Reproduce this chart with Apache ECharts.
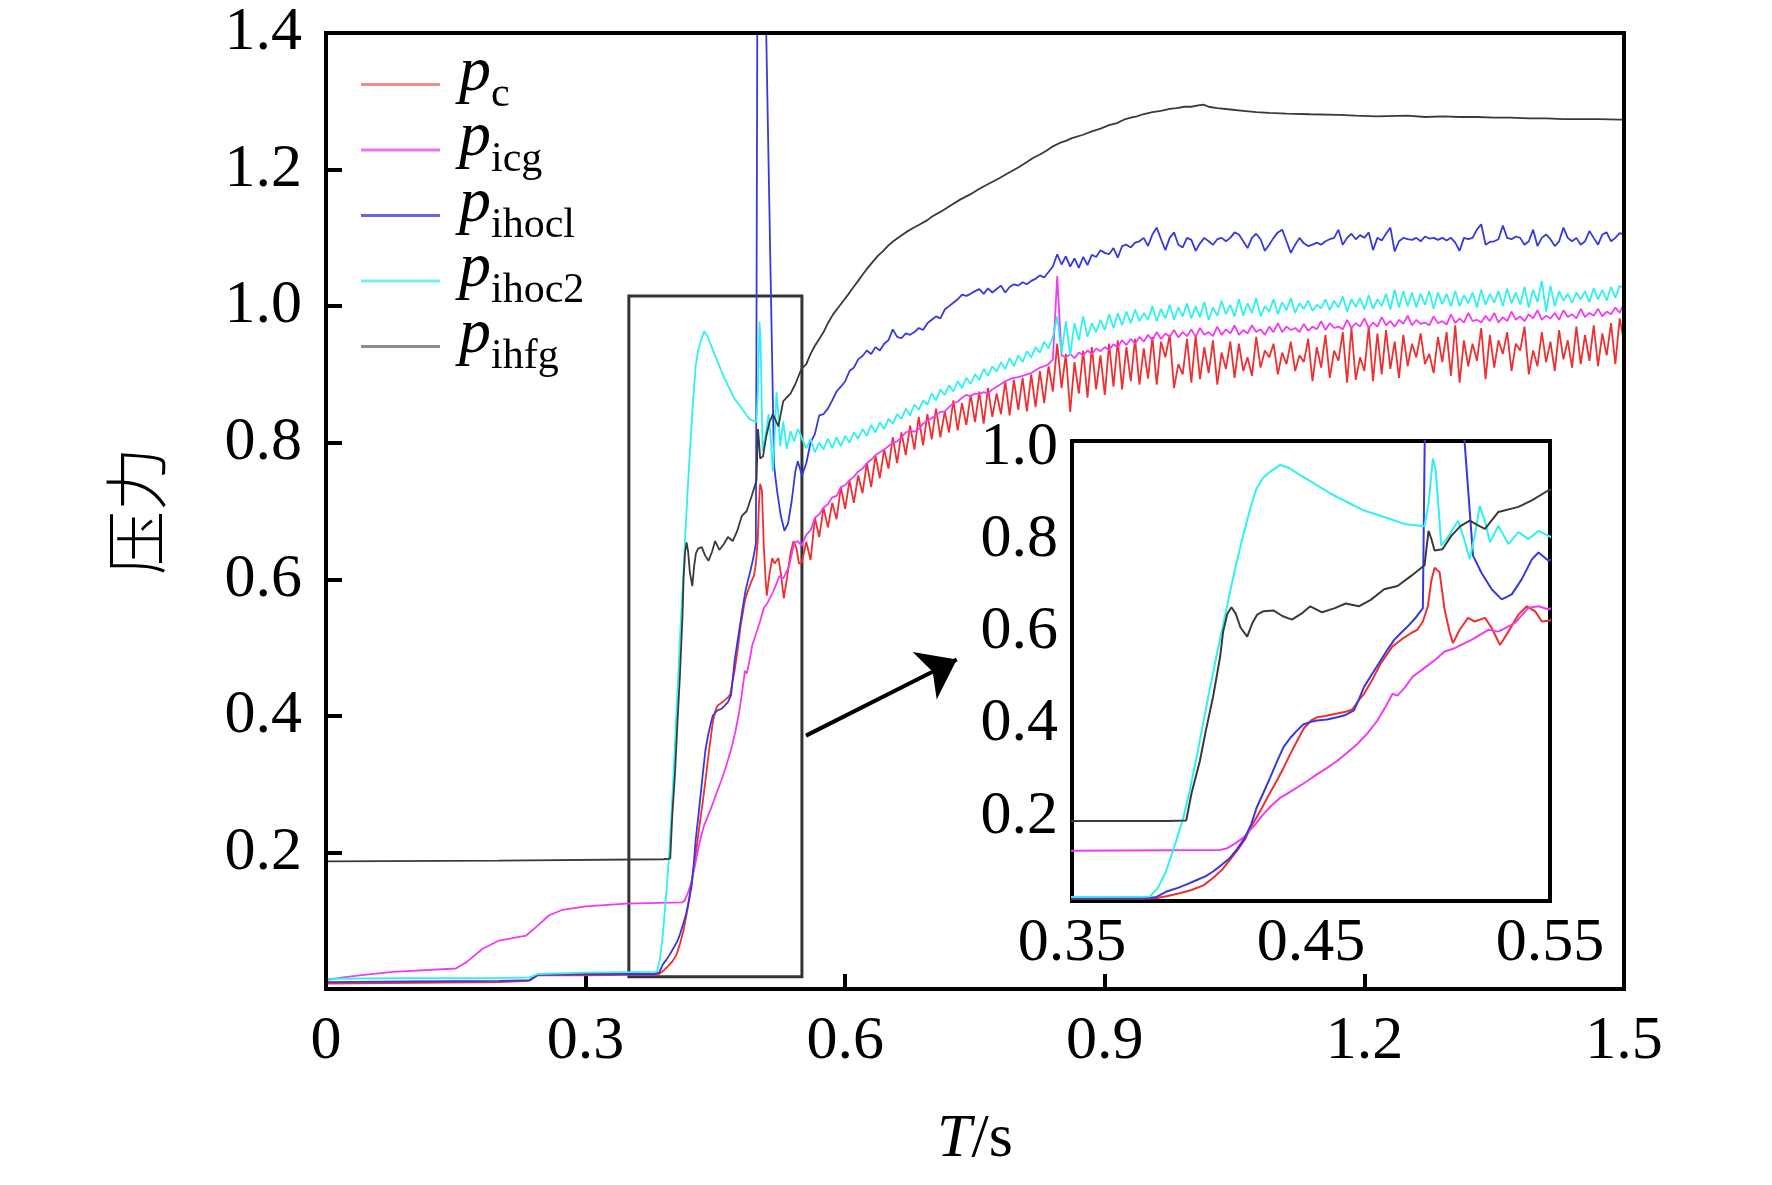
<!DOCTYPE html>
<html>
<head>
<meta charset="utf-8" />
<title>压力</title>
<script src="https://cdn.jsdelivr.net/npm/echarts@6.0.0/dist/echarts.min.js"></script>
<style>
  html, body { margin: 0; padding: 0; background: #fff; }
  #chart { width: 1772px; height: 1185px; }
</style>
</head>
<body>
<div id="chart"></div>
<script>
// 前段（0 ~ 0.55 s）按 [时间, 压力] 读取
var pcHead = [
  [0, 0.008], [0.1, 0.009], [0.2, 0.010], [0.235, 0.012], [0.245, 0.020], [0.3, 0.020],
  [0.38, 0.021], [0.385, 0.022], [0.39, 0.027], [0.395, 0.033], [0.4, 0.040], [0.405, 0.050],
  [0.409, 0.066], [0.413, 0.085], [0.416, 0.105], [0.419, 0.125], [0.4223, 0.149], [0.425, 0.178],
  [0.4287, 0.211], [0.432, 0.243], [0.4357, 0.277], [0.4385, 0.305], [0.4413, 0.335], [0.444, 0.362],
  [0.4469, 0.390], [0.45, 0.408], [0.4525, 0.415], [0.456, 0.418], [0.4609, 0.423], [0.4645, 0.427],
  [0.4673, 0.432], [0.47, 0.452], [0.4722, 0.466], [0.476, 0.500], [0.4792, 0.532], [0.4841, 0.569],
  [0.4876, 0.583], [0.4919, 0.598], [0.4945, 0.605], [0.4968, 0.623], [0.4989, 0.656], [0.5003, 0.710],
  [0.5017, 0.740], [0.5038, 0.730], [0.5059, 0.649], [0.508, 0.600], [0.5094, 0.576], [0.5122, 0.605],
  [0.5157, 0.631], [0.5185, 0.623], [0.5228, 0.631], [0.5256, 0.609], [0.5291, 0.572], [0.5326, 0.601],
  [0.5368, 0.638], [0.5403, 0.656], [0.5438, 0.645], [0.5466, 0.623], [0.55, 0.625]
];
var picgHead = [
  [0, 0.013], [0.02, 0.017], [0.0385, 0.020], [0.077, 0.025], [0.15, 0.030], [0.162, 0.039],
  [0.181, 0.059], [0.2, 0.071], [0.231, 0.078], [0.243, 0.091], [0.258, 0.108], [0.2735, 0.116],
  [0.3, 0.121], [0.347, 0.125], [0.412, 0.127], [0.4146, 0.130], [0.418, 0.140], [0.4216, 0.153],
  [0.426, 0.178], [0.43, 0.204], [0.4336, 0.224], [0.4371, 0.240], [0.4406, 0.251], [0.4441, 0.262],
  [0.4483, 0.276], [0.4525, 0.291], [0.4567, 0.305], [0.4609, 0.320], [0.4651, 0.338], [0.4694, 0.357],
  [0.4736, 0.380], [0.4778, 0.408], [0.481, 0.436], [0.4841, 0.466], [0.4862, 0.462], [0.4893, 0.480],
  [0.4925, 0.503], [0.4982, 0.525], [0.502, 0.540], [0.5059, 0.558], [0.5101, 0.565], [0.5171, 0.583],
  [0.5242, 0.605], [0.5284, 0.601], [0.5354, 0.620], [0.541, 0.653], [0.5452, 0.656], [0.5494, 0.649],
  [0.55, 0.650]
];
var pihoc1Head = [
  [0, 0.010], [0.1, 0.011], [0.2, 0.012], [0.235, 0.013], [0.245, 0.021], [0.3, 0.022],
  [0.38, 0.022], [0.385, 0.024], [0.3893, 0.036], [0.3935, 0.043], [0.398, 0.052], [0.402, 0.061],
  [0.406, 0.070], [0.409, 0.080], [0.4125, 0.094], [0.416, 0.109], [0.419, 0.128], [0.4223, 0.153],
  [0.425, 0.183], [0.4272, 0.218], [0.43, 0.250], [0.4329, 0.284], [0.4357, 0.318], [0.4385, 0.350],
  [0.4413, 0.370], [0.4441, 0.386], [0.4469, 0.400], [0.45, 0.405], [0.4525, 0.408], [0.4567, 0.410],
  [0.4609, 0.415], [0.4645, 0.420], [0.468, 0.430], [0.4701, 0.455], [0.4722, 0.481], [0.4757, 0.510],
  [0.4792, 0.539], [0.482, 0.562], [0.4848, 0.583], [0.4876, 0.598], [0.4904, 0.612], [0.4936, 0.630],
  [0.4968, 0.652], [0.4985, 1.450], [0.508, 1.450], [0.5178, 0.766], [0.5213, 0.729], [0.5256, 0.693],
  [0.5298, 0.671], [0.534, 0.682], [0.5382, 0.715], [0.5424, 0.758], [0.5452, 0.773], [0.5494, 0.755],
  [0.55, 0.752]
];
var pihoc2Head = [
  [0, 0.015], [0.1, 0.016], [0.2, 0.016], [0.235, 0.017], [0.245, 0.022], [0.3, 0.024],
  [0.38, 0.025], [0.3826, 0.026], [0.386, 0.045], [0.3893, 0.080], [0.3935, 0.145], [0.3965, 0.195],
  [0.3992, 0.255], [0.402, 0.325], [0.4048, 0.400], [0.4076, 0.475], [0.4104, 0.547], [0.4132, 0.615],
  [0.416, 0.685], [0.4188, 0.750], [0.4216, 0.809], [0.4244, 0.865], [0.4272, 0.912], [0.43, 0.935],
  [0.4329, 0.948], [0.4371, 0.963], [0.4406, 0.957], [0.4441, 0.945], [0.4483, 0.932], [0.4525, 0.919],
  [0.4581, 0.901], [0.4652, 0.882], [0.4722, 0.864], [0.4806, 0.850], [0.489, 0.835], [0.4975, 0.830],
  [0.4992, 0.880], [0.501, 0.977], [0.5022, 0.950], [0.5035, 0.860], [0.5045, 0.788], [0.5077, 0.809],
  [0.5115, 0.842], [0.5142, 0.800], [0.5164, 0.758], [0.5185, 0.810], [0.5206, 0.874], [0.5228, 0.840],
  [0.5249, 0.795], [0.5284, 0.831], [0.5326, 0.791], [0.5368, 0.817], [0.541, 0.802], [0.5452, 0.820],
  [0.5494, 0.809], [0.55, 0.806]
];
var pihfgData = [
  [0, 0.187], [0.2, 0.188], [0.39, 0.190], [0.3978, 0.191], [0.4, 0.250], [0.4035, 0.320],
  [0.406, 0.386], [0.409, 0.459], [0.412, 0.547], [0.4132, 0.600], [0.415, 0.640], [0.4167, 0.654],
  [0.4185, 0.640], [0.4205, 0.610], [0.4233, 0.590], [0.4255, 0.620], [0.4275, 0.638], [0.43, 0.645],
  [0.4343, 0.647], [0.438, 0.635], [0.442, 0.627], [0.446, 0.640], [0.4497, 0.656], [0.4546, 0.643],
  [0.46, 0.652], [0.4645, 0.662], [0.47, 0.656], [0.475, 0.670], [0.4806, 0.693], [0.4862, 0.700],
  [0.4919, 0.722], [0.4975, 0.745], [0.4985, 0.790], [0.4992, 0.820], [0.5005, 0.800], [0.5017, 0.777],
  [0.505, 0.780], [0.5087, 0.809], [0.5125, 0.830], [0.5164, 0.842], [0.5205, 0.830], [0.5228, 0.824],
  [0.5284, 0.861], [0.5368, 0.872], [0.5424, 0.886], [0.5494, 0.908], [0.555, 0.915], [0.56, 0.930],
  [0.565, 0.942], [0.57, 0.952], [0.575, 0.962], [0.58, 0.975], [0.586, 0.988], [0.592, 0.998],
  [0.598, 1.008], [0.604, 1.018], [0.609, 1.027], [0.615, 1.037], [0.62, 1.046], [0.626, 1.056],
  [0.6325, 1.066], [0.638, 1.074], [0.644, 1.081], [0.65, 1.089], [0.6556, 1.095], [0.662, 1.101],
  [0.67, 1.108], [0.678, 1.114], [0.6865, 1.120], [0.695, 1.126], [0.7, 1.131], [0.71, 1.138],
  [0.72, 1.146], [0.7327, 1.156], [0.745, 1.164], [0.755, 1.172], [0.767, 1.180], [0.779, 1.188],
  [0.79, 1.196], [0.8, 1.203], [0.81, 1.211], [0.817, 1.217], [0.825, 1.222], [0.833, 1.228],
  [0.84, 1.234], [0.848, 1.239], [0.855, 1.242], [0.862, 1.246], [0.875, 1.251], [0.885, 1.256],
  [0.895, 1.260], [0.905, 1.265], [0.914, 1.268], [0.922, 1.273], [0.93, 1.276], [0.937, 1.278],
  [0.944, 1.281], [0.955, 1.284], [0.965, 1.286], [0.975, 1.289], [0.983, 1.290], [0.992, 1.292],
  [1.0, 1.292], [1.008, 1.294], [1.014, 1.295], [1.02, 1.292], [1.03, 1.290], [1.045, 1.288],
  [1.06, 1.286], [1.075, 1.284], [1.09, 1.283], [1.11, 1.282], [1.137, 1.281], [1.17, 1.280],
  [1.19, 1.279], [1.214, 1.278], [1.25, 1.279], [1.27, 1.277], [1.291, 1.278], [1.31, 1.277],
  [1.33, 1.277], [1.35, 1.276], [1.368, 1.276], [1.39, 1.275], [1.41, 1.275], [1.43, 1.274],
  [1.45, 1.274], [1.47, 1.274], [1.495, 1.273], [1.5, 1.273]
];

// 后段（0.555 ~ 1.5 s，每 0.005 s 一个读数）
var tailStart = 0.55, tailStep = 0.005;
var pcTail = [
  0.655, 0.628, 0.690, 0.662, 0.705, 0.676, 0.712, 0.688, 0.735, 0.703,
  0.745, 0.712, 0.752, 0.726, 0.770, 0.735, 0.781, 0.748, 0.790, 0.762,
  0.808, 0.770, 0.815, 0.782, 0.825, 0.790, 0.838, 0.796, 0.842, 0.805,
  0.850, 0.808, 0.846, 0.815, 0.862, 0.818, 0.858, 0.826, 0.870, 0.830,
  0.875, 0.828, 0.880, 0.838, 0.872, 0.842, 0.890, 0.840, 0.892, 0.848,
  0.895, 0.846, 0.900, 0.852, 0.905, 0.858, 0.912, 0.875, 0.945, 0.880,
  0.930, 0.845, 0.918, 0.872, 0.935, 0.866, 0.940, 0.878, 0.928, 0.870,
  0.945, 0.882, 0.950, 0.878, 0.940, 0.890, 0.952, 0.885, 0.938, 0.894,
  0.955, 0.885, 0.948, 0.925, 0.958, 0.880, 0.915, 0.900, 0.952, 0.888,
  0.957, 0.893, 0.940, 0.902, 0.950, 0.885, 0.932, 0.908, 0.948, 0.895,
  0.945, 0.905, 0.925, 0.898, 0.955, 0.910, 0.935, 0.925, 0.945, 0.900,
  0.932, 0.915, 0.948, 0.905, 0.928, 0.918, 0.952, 0.890, 0.940, 0.910,
  0.958, 0.895, 0.935, 0.920, 0.962, 0.888, 0.968, 0.892, 0.925, 0.905,
  0.970, 0.890, 0.960, 0.900, 0.965, 0.908, 0.948, 0.895, 0.958, 0.912,
  0.945, 0.925, 0.960, 0.915, 0.930, 0.902, 0.955, 0.918, 0.962, 0.898,
  0.972, 0.888, 0.950, 0.912, 0.945, 0.920, 0.968, 0.893, 0.958, 0.910,
  0.950, 0.930, 0.962, 0.905, 0.945, 0.935, 0.970, 0.900, 0.935, 0.912,
  0.962, 0.918, 0.948, 0.905, 0.965, 0.922, 0.950, 0.910, 0.970, 0.915,
  0.958, 0.920, 0.972, 0.912, 0.960, 0.928, 0.975, 0.915, 0.982, 0.948
];
var picgTail = [
  0.665, 0.672, 0.690, 0.695, 0.705, 0.710, 0.720, 0.722, 0.735, 0.738,
  0.745, 0.750, 0.758, 0.762, 0.770, 0.775, 0.782, 0.786, 0.790, 0.795,
  0.800, 0.802, 0.808, 0.815, 0.818, 0.816, 0.820, 0.828, 0.832, 0.836,
  0.840, 0.845, 0.846, 0.852, 0.858, 0.860, 0.866, 0.870, 0.868, 0.872,
  0.871, 0.874, 0.872, 0.878, 0.882, 0.886, 0.890, 0.893, 0.895, 0.896,
  0.898, 0.900, 0.902, 0.906, 0.910, 0.912, 0.915, 0.922, 1.044, 0.928,
  0.925, 0.930, 0.924, 0.932, 0.928, 0.935, 0.930, 0.938, 0.934, 0.940,
  0.936, 0.944, 0.940, 0.950, 0.943, 0.952, 0.945, 0.955, 0.948, 0.958,
  0.950, 0.962, 0.952, 0.960, 0.955, 0.965, 0.954, 0.962, 0.956, 0.966,
  0.955, 0.968, 0.958, 0.962, 0.956, 0.970, 0.958, 0.966, 0.960, 0.972,
  0.958, 0.965, 0.960, 0.972, 0.962, 0.966, 0.958, 0.970, 0.962, 0.975,
  0.962, 0.970, 0.965, 0.968, 0.962, 0.974, 0.964, 0.970, 0.966, 0.978,
  0.965, 0.975, 0.968, 0.970, 0.966, 0.980, 0.968, 0.975, 0.970, 0.982,
  0.968, 0.976, 0.970, 0.984, 0.972, 0.978, 0.970, 0.980, 0.974, 0.986,
  0.972, 0.980, 0.974, 0.976, 0.972, 0.985, 0.975, 0.978, 0.973, 0.988,
  0.975, 0.982, 0.976, 0.990, 0.978, 0.980, 0.976, 0.986, 0.978, 0.990,
  0.976, 0.984, 0.978, 0.992, 0.980, 0.985, 0.978, 0.988, 0.982, 0.994,
  0.980, 0.986, 0.982, 0.990, 0.980, 0.994, 0.984, 0.988, 0.982, 0.996,
  0.984, 0.990, 0.986, 0.996, 0.985, 0.992, 0.988, 0.998, 0.990, 1.004
];
var pihoc1Tail = [
  0.770, 0.800, 0.813, 0.840, 0.842, 0.850, 0.862, 0.875, 0.882, 0.890,
  0.905, 0.910, 0.922, 0.927, 0.935, 0.930, 0.940, 0.935, 0.945, 0.950,
  0.966, 0.955, 0.953, 0.960, 0.958, 0.962, 0.968, 0.965, 0.975, 0.980,
  0.985, 0.982, 0.995, 1.000, 1.005, 1.010, 1.017, 1.015, 1.018, 1.022,
  1.025, 1.018, 1.026, 1.020, 1.025, 1.030, 1.020, 1.028, 1.032, 1.030,
  1.035, 1.032, 1.037, 1.040, 1.045, 1.042, 1.050, 1.058, 1.076, 1.061,
  1.073, 1.058, 1.070, 1.056, 1.072, 1.060, 1.075, 1.072, 1.082, 1.078,
  1.076, 1.085, 1.071, 1.088, 1.090, 1.086, 1.093, 1.095, 1.100, 1.088,
  1.105, 1.115, 1.098, 1.082, 1.100, 1.108, 1.090, 1.086, 1.100, 1.097,
  1.081, 1.092, 1.100, 1.095, 1.090, 1.098, 1.100, 1.095, 1.100, 1.108,
  1.105, 1.095, 1.085, 1.100, 1.106, 1.098, 1.081, 1.090, 1.100, 1.108,
  1.112, 1.095, 1.078, 1.090, 1.100, 1.092, 1.088, 1.090, 1.093, 1.090,
  1.095, 1.098, 1.100, 1.112, 1.090, 1.100, 1.106, 1.098, 1.104, 1.100,
  1.108, 1.082, 1.100, 1.096, 1.106, 1.115, 1.080, 1.095, 1.100, 1.098,
  1.097, 1.100, 1.095, 1.102, 1.099, 1.100, 1.097, 1.100, 1.096, 1.100,
  1.093, 1.081, 1.100, 1.098, 1.100, 1.112, 1.120, 1.090, 1.094, 1.095,
  1.098, 1.118, 1.100, 1.098, 1.102, 1.100, 1.090, 1.095, 1.112, 1.088,
  1.100, 1.105, 1.098, 1.088, 1.095, 1.115, 1.100, 1.095, 1.100, 1.090,
  1.095, 1.110, 1.100, 1.090, 1.105, 1.108, 1.095, 1.100, 1.107, 1.105
];
var pihoc2Tail = [
  0.792, 0.805, 0.786, 0.800, 0.790, 0.806, 0.792, 0.808, 0.795, 0.810,
  0.800, 0.815, 0.806, 0.820, 0.810, 0.826, 0.815, 0.830, 0.820, 0.835,
  0.828, 0.842, 0.835, 0.850, 0.840, 0.856, 0.848, 0.862, 0.856, 0.872,
  0.862, 0.878, 0.870, 0.884, 0.875, 0.890, 0.880, 0.895, 0.886, 0.900,
  0.892, 0.908, 0.898, 0.912, 0.904, 0.918, 0.908, 0.924, 0.912, 0.928,
  0.918, 0.934, 0.925, 0.940, 0.932, 0.948, 0.938, 0.955, 0.985, 0.930,
  0.978, 0.928, 0.975, 0.950, 0.985, 0.955, 0.975, 0.962, 0.980, 0.965,
  0.988, 0.968, 0.990, 0.972, 0.992, 0.975, 0.995, 0.978, 0.990, 0.980,
  1.000, 0.978, 0.996, 0.982, 1.002, 0.980, 0.998, 0.985, 1.004, 0.982,
  1.000, 0.984, 1.006, 0.980, 0.998, 0.986, 1.008, 0.988, 1.002, 0.985,
  1.010, 0.986, 1.004, 0.990, 1.012, 0.985, 1.000, 0.992, 1.010, 0.988,
  1.006, 0.994, 1.012, 0.990, 1.004, 0.996, 1.008, 0.993, 1.002, 0.997,
  1.010, 0.994, 1.008, 0.998, 1.014, 0.992, 1.010, 0.999, 1.012, 0.995,
  1.016, 0.996, 1.010, 1.000, 1.018, 0.995, 1.024, 0.998, 1.022, 1.000,
  1.020, 0.998, 1.018, 1.002, 1.022, 0.996, 1.020, 1.003, 1.018, 1.000,
  1.022, 1.000, 1.016, 1.004, 1.020, 0.998, 1.024, 1.002, 1.018, 1.005,
  1.022, 1.000, 1.026, 1.004, 1.020, 1.002, 1.028, 0.998, 1.024, 1.006,
  1.037, 0.992, 1.030, 1.000, 1.022, 1.008, 1.018, 1.005, 1.020, 1.010,
  1.022, 1.006, 1.026, 1.010, 1.024, 1.008, 1.028, 1.012, 1.030, 1.025
];

// 轴刻度
var mainXLabels = [0, 0.3, 0.6, 0.9, 1.2, 1.5];
var mainXTicks = [0.3, 0.6, 0.9, 1.2];
var mainYTicks = [0.2, 0.4, 0.6, 0.8, 1.0, 1.2, 1.4];
var insetXLabels = [0.35, 0.45, 0.55];
var insetXTicks = [0.40, 0.45, 0.50];
var insetYTicks = [0.2, 0.4, 0.6, 0.8, 1.0];
// 局部放大框与箭头（数据坐标）
var zoomBox = [[0.35, 0.018], [0.55, 1.015]];
var arrowLine = [[0.5547, 0.371], [0.729, 0.4825]];

function joinTail(head, tail) {
  var out = head.slice();
  tail.forEach(function (v, i) {
    out.push([Math.round((tailStart + tailStep * (i + 1)) * 1000) / 1000, v]);
  });
  return out;
}

var curves = [
  { name: 'c', data: joinTail(pcHead, pcTail), color: '#ee3030', legend: '#f08c8c' },
  { name: 'icg', data: joinTail(picgHead, picgTail), color: '#f03cf0', legend: '#e878e8' },
  { name: 'ihocl', data: joinTail(pihoc1Head, pihoc1Tail), color: '#3838e0', legend: '#6464e4' },
  { name: 'ihoc2', data: joinTail(pihoc2Head, pihoc2Tail), color: '#30f0f0', legend: '#78f0f0' },
  { name: 'ihfg', data: pihfgData, color: '#3a3a3a', legend: '#8c8c8c' }
];

var serif = 'Liberation Serif';
var labelFont = { fontFamily: serif, fontSize: 62, color: '#000' };

var series = [];
curves.forEach(function (c, idx) {
  var s = {
    type: 'line', name: c.name, data: c.data,
    xAxisIndex: 0, yAxisIndex: 0,
    showSymbol: false, symbol: 'none',
    lineStyle: { color: c.color, width: 1.8 },
    itemStyle: { color: c.color },
    emphasis: { disabled: true }, clip: true, z: 3
  };
  if (idx === 4) {
    s.markArea = {
      silent: true,
      itemStyle: { color: 'rgba(0,0,0,0)', borderColor: '#333', borderWidth: 3 },
      label: { show: false },
      data: [[{ coord: zoomBox[0] }, { coord: zoomBox[1] }]]
    };
    s.markLine = {
      silent: true,
      lineStyle: { color: '#000', width: 4, type: 'solid' },
      label: { show: false },
      data: [[
        { coord: arrowLine[0], symbol: 'none' },
        { coord: arrowLine[1], symbol: 'arrow', symbolSize: [40, 36] }
      ]]
    };
  }
  series.push(s);
  series.push({
    type: 'line', name: c.name, data: c.data,
    xAxisIndex: 1, yAxisIndex: 1,
    showSymbol: false, symbol: 'none',
    lineStyle: { color: c.color, width: 2 },
    itemStyle: { color: c.color },
    emphasis: { disabled: true }, clip: true, z: 5
  });
});

var chart = echarts.init(document.getElementById('chart'), null, { renderer: 'canvas' });
chart.setOption({
  animation: false,
  backgroundColor: '#fff',
  legend: {
    orient: 'vertical', left: 356, top: 36,
    icon: 'rect', itemWidth: 79, itemHeight: 3, itemGap: -9,
    selectedMode: false,
    data: curves.map(function (c) { return { name: c.name, itemStyle: { color: c.legend } }; }),
    formatter: function (name) { return '{p|p}{s|' + name + '}'; },
    textStyle: {
      rich: {
        p: { fontFamily: serif, fontStyle: 'italic', fontSize: 64, height: 29, lineHeight: 60, padding: [4, 0, 27, 14], color: '#000', verticalAlign: 'middle' },
        s: { fontFamily: serif, fontSize: 42, height: 34, lineHeight: 60, padding: [23, 0, 3, 0], color: '#000', verticalAlign: 'middle' }
      }
    }
  },
  grid: [
    { left: 326, top: 33, width: 1298, height: 956, show: true, borderColor: '#000', borderWidth: 4, backgroundColor: 'rgba(0,0,0,0)', z: 10 },
    { left: 1072, top: 441, width: 478, height: 460, show: true, borderColor: '#000', borderWidth: 4, backgroundColor: '#fff', z: 4 }
  ],
  xAxis: [
    {
      type: 'value', gridIndex: 0, min: 0, max: 1.5,
      name: '{i|T}{r|/s}', nameLocation: 'middle', nameGap: 120,
      nameTextStyle: { rich: { i: { fontFamily: serif, fontStyle: 'italic', fontSize: 62, color: '#000' }, r: { fontFamily: serif, fontSize: 62, color: '#000' } } },
      axisLine: { show: false }, splitLine: { show: false },
      axisTick: { inside: true, length: 15, customValues: mainXTicks, lineStyle: { color: '#000', width: 4 } },
      axisLabel: Object.assign({ margin: 22, customValues: mainXLabels, formatter: function (v) { return v === 0 ? '0' : v.toFixed(1); } }, labelFont)
    },
    {
      type: 'value', gridIndex: 1, min: 0.35, max: 0.55,
      axisLine: { show: false }, splitLine: { show: false },
      axisTick: { inside: true, length: 14, customValues: insetXTicks, lineStyle: { color: '#000', width: 4 } },
      axisLabel: Object.assign({ margin: 12, customValues: insetXLabels, formatter: function (v) { return v.toFixed(2); } }, labelFont)
    },
    {
      type: 'value', gridIndex: 1, position: 'top', min: 0.35, max: 0.55,
      axisLine: { show: false }, splitLine: { show: false },
      axisTick: { inside: true, length: 14, customValues: insetXTicks, lineStyle: { color: '#000', width: 4 } },
      axisLabel: { show: false }
    }
  ],
  yAxis: [
    {
      type: 'value', gridIndex: 0, min: 0, max: 1.4,
      name: '压力', nameLocation: 'middle', nameGap: 158,
      nameTextStyle: { fontFamily: 'Noto Sans CJK SC', fontWeight: 300, fontSize: 64, color: '#000' },
      axisLine: { show: false }, splitLine: { show: false },
      axisTick: { inside: true, length: 16, customValues: mainYTicks, lineStyle: { color: '#000', width: 4 } },
      axisLabel: Object.assign({ margin: 24, customValues: mainYTicks, formatter: function (v) { return v.toFixed(1); } }, labelFont)
    },
    {
      type: 'value', gridIndex: 1, min: 0.016, max: 1.015,
      axisLine: { show: false }, splitLine: { show: false },
      axisTick: { inside: true, length: 14, customValues: insetYTicks, lineStyle: { color: '#000', width: 4 } },
      axisLabel: Object.assign({ margin: 14, customValues: insetYTicks, formatter: function (v) { return v.toFixed(1); } }, labelFont)
    },
    {
      type: 'value', gridIndex: 1, position: 'right', min: 0.016, max: 1.015,
      axisLine: { show: false }, splitLine: { show: false },
      axisTick: { inside: true, length: 14, customValues: insetYTicks, lineStyle: { color: '#000', width: 4 } },
      axisLabel: { show: false }
    }
  ],
  series: series
});
</script>
</body>
</html>
